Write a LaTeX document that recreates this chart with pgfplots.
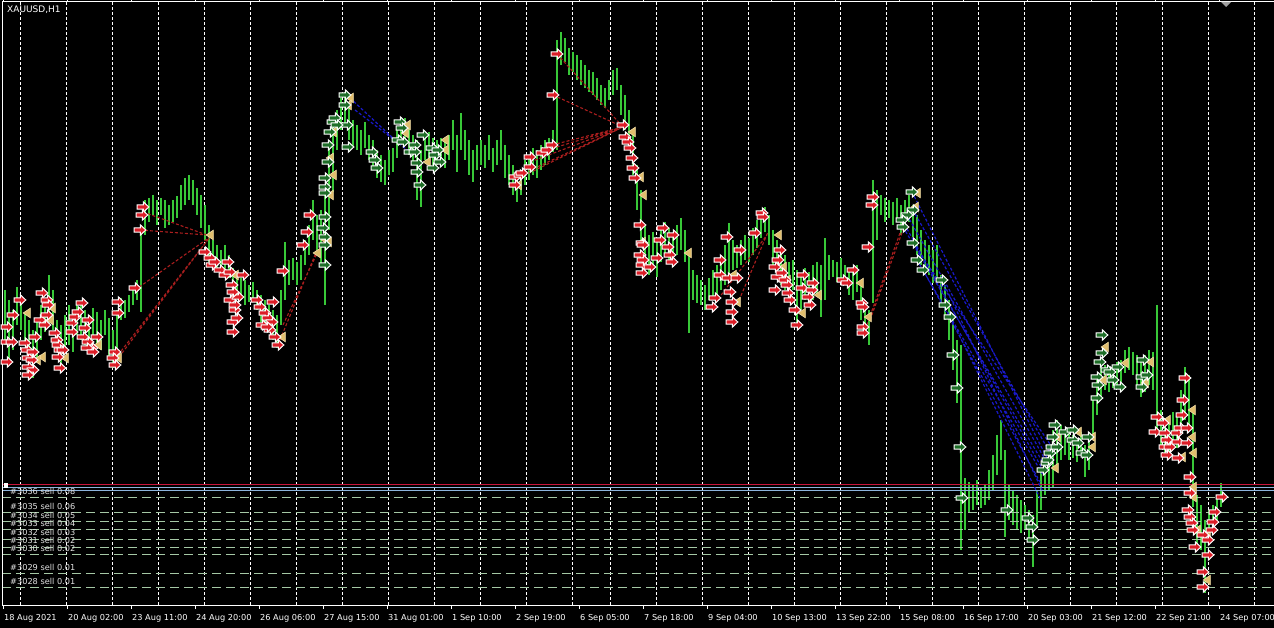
\documentclass[border=0pt]{standalone}
\usepackage{fontspec}
\setmainfont{DejaVu Sans}
\usepackage{pgfplots}
\pgfplotsset{compat=1.18}
\usepackage{pgfplotstable}

\definecolor{barcol}{RGB}{56,200,56}
\definecolor{sellred}{RGB}{220,30,40}
\definecolor{buygreen}{RGB}{30,110,40}
\definecolor{closetan}{RGB}{225,190,110}
\definecolor{closeedge}{RGB}{245,225,170}
\definecolor{ordline}{RGB}{165,200,165}
\definecolor{lvlred}{RGB}{200,20,60}
\definecolor{lvlblue}{RGB}{140,180,220}
\definecolor{dashred}{RGB}{170,30,30}
\definecolor{dashblue}{RGB}{25,25,200}
\definecolor{labgray}{RGB}{225,225,225}

% trade arrow (pointing right) and close marker (pointing left)
\pgfdeclareplotmark{rarrow}{%
  \pgfpathmoveto{\pgfqpoint{-\pgfplotmarksize}{0.38\pgfplotmarksize}}%
  \pgfpathlineto{\pgfqpoint{0.05\pgfplotmarksize}{0.38\pgfplotmarksize}}%
  \pgfpathlineto{\pgfqpoint{0.05\pgfplotmarksize}{0.9\pgfplotmarksize}}%
  \pgfpathlineto{\pgfqpoint{\pgfplotmarksize}{0pt}}%
  \pgfpathlineto{\pgfqpoint{0.05\pgfplotmarksize}{-0.9\pgfplotmarksize}}%
  \pgfpathlineto{\pgfqpoint{0.05\pgfplotmarksize}{-0.38\pgfplotmarksize}}%
  \pgfpathlineto{\pgfqpoint{-\pgfplotmarksize}{-0.38\pgfplotmarksize}}%
  \pgfpathclose
  \pgfusepathqfillstroke}
\pgfdeclareplotmark{ltri}{%
  \pgfpathmoveto{\pgfqpoint{-0.8\pgfplotmarksize}{0pt}}%
  \pgfpathlineto{\pgfqpoint{0.7\pgfplotmarksize}{\pgfplotmarksize}}%
  \pgfpathlineto{\pgfqpoint{0.7\pgfplotmarksize}{-\pgfplotmarksize}}%
  \pgfpathclose
  \pgfusepathqfillstroke}

% hourly bars: x position, top, bottom (screen rows, y axis reversed)
\pgfplotstableread{
x t b
5 290 345
9 300 362
13 310 350
17 287 325
21 295 330
25 312 345
29 320 372
33 330 378
37 318 360
41 305 340
45 300 332
49 275 320
53 290 330
57 320 352
61 325 365
65 315 350
69 305 345
73 310 352
77 302 335
81 305 340
85 310 345
89 315 352
93 308 340
97 312 345
101 320 350
105 310 335
109 318 360
113 330 368
117 310 365
121 298 320
125 300 318
129 295 312
133 288 305
137 280 300
141 228 312
145 200 235
149 198 222
153 195 215
157 200 225
161 198 215
165 200 228
169 205 225
173 200 222
177 196 218
181 185 210
185 178 205
189 175 200
193 180 205
197 188 215
201 195 228
205 205 240
209 225 262
213 240 262
217 245 268
221 250 275
225 245 270
229 255 278
233 268 298
237 272 296
241 278 300
245 280 305
249 285 302
253 282 300
257 290 310
261 295 322
265 300 325
269 305 330
273 310 340
277 315 348
281 290 325
285 242 300
289 260 285
293 258 280
297 262 285
301 255 280
305 240 265
309 225 255
313 200 240
317 215 250
321 210 265
325 195 305
329 150 230
333 118 192
337 110 150
341 98 130
345 92 125
349 105 140
353 120 148
357 125 150
361 130 155
365 122 148
369 135 160
373 140 170
377 150 178
381 155 182
385 160 185
389 150 175
393 148 172
397 130 158
401 120 145
405 118 140
409 128 155
413 135 165
417 140 200
421 150 207
425 135 160
429 132 158
433 138 165
437 140 165
441 138 160
445 142 168
449 135 160
453 120 150
457 135 172
461 113 150
465 130 160
469 140 175
473 150 182
477 145 170
481 140 165
485 145 168
489 135 160
493 148 172
497 140 165
501 130 160
505 145 178
509 155 185
513 165 195
517 175 202
521 170 195
525 160 185
529 155 180
533 148 175
537 150 178
541 145 170
545 140 165
549 138 160
553 130 152
557 40 150
561 32 65
565 38 62
569 48 75
573 52 72
577 55 80
581 60 85
585 65 88
589 70 92
593 72 95
597 78 100
601 85 105
605 88 108
609 80 100
613 70 95
617 68 90
621 85 115
625 95 130
629 110 140
633 130 175
637 165 210
641 190 240
645 225 270
649 235 275
653 232 268
657 240 277
661 230 262
665 222 255
669 228 260
673 235 267
677 225 255
681 218 250
685 230 262
689 250 333
693 270 300
697 275 303
701 280 305
705 285 310
709 278 300
713 270 300
717 265 295
721 260 290
725 245 285
729 223 275
733 240 270
737 245 268
741 240 265
745 235 260
749 238 262
753 228 255
757 220 248
761 210 238
765 207 232
769 215 245
773 230 265
777 240 270
781 250 285
785 255 290
789 262 297
793 260 290
797 270 327
801 275 310
805 268 300
809 272 305
813 265 300
817 262 295
821 265 317
825 238 300
829 255 280
833 260 277
837 262 282
841 258 278
845 265 285
849 268 295
853 272 300
857 265 292
861 285 320
865 300 335
869 310 345
873 180 303
877 190 240
881 195 215
885 198 222
889 200 218
893 202 225
897 198 220
901 205 235
905 200 228
909 195 222
913 205 237
917 215 255
921 230 265
925 240 272
929 245 275
933 250 283
937 245 280
941 275 305
945 285 320
949 300 340
953 320 370
957 340 403
961 345 550
965 478 530
969 482 512
973 485 510
977 480 505
981 488 508
985 485 505
989 470 500
993 455 490
997 435 475
1001 420 460
1005 450 537
1009 485 520
1013 490 525
1017 495 530
1021 500 533
1025 505 530
1029 510 540
1033 515 567
1037 490 527
1041 470 510
1045 460 495
1049 457 490
1053 430 487
1057 420 470
1061 425 460
1065 430 455
1069 433 460
1073 435 458
1077 440 462
1081 432 455
1085 445 477
1089 440 470
1093 400 440
1097 380 415
1101 367 400
1105 365 390
1109 370 392
1113 368 388
1117 362 385
1121 360 382
1125 350 373
1129 347 370
1133 352 375
1137 355 385
1141 360 397
1145 355 392
1149 350 385
1153 352 390
1157 305 433
1161 410 445
1165 418 455
1169 420 457
1173 412 450
1177 415 448
1181 390 433
1185 367 420
1189 375 430
1193 410 507
1197 495 545
1201 505 550
1205 520 593
1209 510 535
1213 505 530
1217 495 520
1221 483 507
}\bars

\begin{document}
\begin{tikzpicture}
\fill[black] (-2pt,-23pt) rectangle (1272pt,605pt);
\begin{axis}[
  at={(0,0)}, anchor=south west,
  scale only axis, width=1272pt, height=603pt,
  xmin=2, xmax=1274, ymin=2, ymax=605, y dir=reverse,
  axis background/.style={fill=black},
  axis line style={draw=none},
  clip=false,
  ytick=\empty,
  xtick={3,67,...,1219},
  xticklabels={18 Aug 2021, 20 Aug 02:00, 23 Aug 11:00, 24 Aug 20:00, 26 Aug 06:00,
    27 Aug 15:00, 31 Aug 01:00, 1 Sep 10:00, 2 Sep 19:00, 6 Sep 05:00,
    7 Sep 18:00, 9 Sep 04:00, 10 Sep 13:00, 13 Sep 22:00, 15 Sep 08:00,
    16 Sep 17:00, 20 Sep 03:00, 21 Sep 12:00, 22 Sep 21:00, 24 Sep 07:00},
  tick align=outside, major tick length=4pt,
  xtick style={white, line width=0.8pt},
  xticklabel style={text=white, font=\fontsize{8.2}{9}\selectfont,
    anchor=north west, inner sep=0pt, xshift=1pt, yshift=-5pt},
  extra x ticks={20.7,66.7,112.7,158.7,204.7,250.7,296.7,342.7,388.7,434.7,480.7,526.7,572.7,
    610.7,656.7,702.7,748.7,794.7,840.7,886.7,932.7,978.7,1024.7,1070.7,1116.7,1162.7,1208.7,1254.7},
  extra x tick labels={},
  extra x tick style={grid=major, major tick length=0pt,
    major grid style={white, dash pattern=on 3pt off 2pt, line width=0.9pt}},
  unbounded coords=jump,
]
% price bars
\addplot[barcol, line width=1.3pt, quiver={u=0, v=\thisrow{b}-\thisrow{t}}]
  table[x=x, y=t] {\bars};

% order levels
\addplot[lvlred, line width=1pt] coordinates {(2,484.5) (1274,484.5)};
\addplot[lvlblue, line width=0.8pt] coordinates {(2,487.5) (1274,487.5) (2,nan) (2,490) (1274,490)};
\pgfplotsinvokeforeach{497,512,521,529,539,547,554,573,587}{
  \addplot[ordline, line width=0.9pt, dash pattern=on 9pt off 5pt] coordinates {(2,#1) (1274,#1)};
}

% connectors of closed sell trades
\addplot[dashred, line width=1.1pt, dash pattern=on 3pt off 2pt] coordinates {
  (113,365) (210,237) (0,nan) (118,355) (210,237) (0,nan) (135,290) (210,237) (0,nan)
  (140,230) (207,235) (0,nan) (143,212) (207,235) (0,nan)
  (280,340) (317,250) (0,nan) (283,325) (322,243) (0,nan)
  (515,180) (623,127) (0,nan) (520,175) (623,127) (0,nan) (530,162) (623,127) (0,nan)
  (547,150) (623,127) (0,nan) (552,145) (623,127) (0,nan) (553,95) (623,127) (0,nan)
  (557,54) (623,127) (0,nan)
  (712,307) (767,235) (0,nan) (737,305) (768,232) (0,nan)
  (865,330) (900,233) (0,nan) (870,320) (903,230)};
% connectors of closed buy trades
\addplot[dashblue, line width=1.2pt, dash pattern=on 3pt off 2pt] coordinates {
  (350,98) (395,140) (0,nan) (355,110) (410,152) (0,nan)
  (912,192) (1048,460) (0,nan) (913,210) (1050,453) (0,nan) (907,215) (1047,463) (0,nan)
  (902,220) (1043,470) (0,nan) (903,227) (1045,466) (0,nan) (913,243) (1052,447) (0,nan)
  (917,260) (1043,475) (0,nan) (923,270) (1040,482) (0,nan) (942,280) (1042,490) (0,nan)
  (950,317) (1040,498)};

% close markers
\addplot[only marks, mark=ltri, mark size=4.8pt,
  mark options={fill=closetan, draw=closeedge, line width=0.6pt}] coordinates {
  (27,313) (52,308) (50,320) (42,357) (65,358) (37,360) (98,345) (118,358) (210,235)
  (235,275) (282,337) (317,253) (325,240) (350,98) (348,105) (333,132) (330,158)
  (333,175) (330,195) (328,242) (407,125) (405,133) (427,162) (445,140) (445,150)
  (518,185) (632,132) (640,177) (643,195) (642,242) (688,253) (733,275) (737,302)
  (778,235) (783,267) (787,280) (802,313) (818,295) (860,283) (868,317) (917,193)
  (915,207) (1057,437) (1078,432) (1092,447) (1092,437) (1105,347) (1103,380)
  (1125,363) (1150,362) (1145,383) (1167,420) (1182,457) (1192,410) (1192,437)
  (1193,453) (1193,487) (1193,497) (1197,530) (1207,533) (1207,580) (1055,468)};

% sell entries
\addplot[only marks, mark=rarrow, mark size=5.8pt,
  mark options={fill=sellred, draw=white, line width=1pt}] coordinates {
  (7,327) (7,342) (13,315) (20,300) (7,362) (12,342) (25,343) (27,350) (28,358)
  (32,360) (33,352) (28,367) (33,370) (28,375) (35,337) (40,320) (42,293) (47,300)
  (48,305) (47,315) (45,325) (55,333) (57,340) (58,345) (60,350) (58,357) (63,350)
  (60,368) (72,323) (72,332) (75,317) (78,312) (82,303) (88,320) (85,328) (83,337)
  (88,342) (92,348) (87,348) (93,352) (97,337) (115,352) (113,358) (115,365)
  (118,302) (118,313) (135,288) (143,207) (142,215) (140,230)
  (205,252) (210,258) (212,265) (215,262) (220,270) (225,275) (230,272) (228,262)
  (232,285) (230,300) (235,310) (233,322) (238,297) (243,275) (233,292) (235,305)
  (237,318) (233,332) (257,300) (260,307) (265,313) (268,318) (272,322) (270,330)
  (275,337) (278,345) (262,325) (267,327) (273,302) (283,271) (307,232) (310,215)
  (303,245)
  (515,177) (515,185) (520,175) (522,173) (530,157) (530,167) (542,153) (547,150)
  (552,145) (553,95) (557,54)
  (623,125) (625,137) (628,142) (630,148) (632,158) (633,168) (635,178) (640,225)
  (642,243) (640,255) (642,265) (643,245) (643,260) (642,273) (650,267) (657,258)
  (660,240) (663,228) (668,247) (670,255) (673,235) (672,262)
  (712,307) (715,298) (720,260) (720,275) (727,237) (728,278) (730,292) (732,302)
  (732,312) (732,322) (737,278) (740,250) (755,233) (762,213) (763,217)
  (775,267) (777,277) (775,290) (778,260) (780,250) (782,273) (785,280) (787,285)
  (788,293) (790,300) (795,310) (797,325) (802,288) (803,275) (808,297) (810,305)
  (812,290) (813,283)
  (843,280) (847,283) (853,270) (862,303) (863,307) (863,327) (863,333) (868,247)
  (872,205) (873,197)
  (1157,417) (1155,432) (1163,423) (1165,433) (1167,440) (1165,447) (1167,455)
  (1170,447) (1177,433) (1180,428) (1178,442) (1183,400) (1182,415) (1185,378)
  (1187,428) (1187,443) (1178,458) (1190,477) (1190,493) (1188,510) (1190,517)
  (1192,523) (1193,530) (1195,547) (1203,535) (1208,540) (1208,555) (1212,530)
  (1213,522) (1215,512) (1203,572) (1203,587) (1222,497)};

% buy entries
\addplot[only marks, mark=rarrow, mark size=5.8pt,
  mark options={fill=buygreen, draw=white, line width=1pt}] coordinates {
  (325,178) (325,187) (325,193) (325,217) (323,228) (325,237) (325,245) (325,265)
  (328,145) (328,162) (330,132) (333,122) (335,118) (345,95) (345,105) (347,125)
  (348,147) (337,125)
  (372,152) (375,160) (377,168) (400,122) (402,128) (398,140) (403,142) (410,152)
  (415,145) (415,152) (417,163) (417,172) (420,185) (423,135) (432,148) (435,155)
  (438,150) (440,162) (433,168)
  (912,192) (913,210) (907,215) (902,220) (903,227) (913,243) (917,260) (923,270)
  (942,280) (945,305) (950,317) (953,355) (957,388) (960,447) (962,498)
  (1007,510) (1028,518) (1032,527) (1033,540) (1043,470) (1047,463) (1048,460)
  (1050,453) (1052,447) (1053,437) (1055,425) (1057,447) (1065,432) (1073,430)
  (1073,440) (1078,443) (1082,453) (1087,455) (1088,437) (1097,377) (1098,385)
  (1097,398) (1100,362) (1102,353) (1102,335) (1107,370) (1110,372) (1113,380)
  (1118,367) (1120,387) (1143,360) (1142,377) (1142,387) (1147,375)};

% chart frame and decorations
\draw[white, line width=1pt] (axis cs:1274,2) -- (axis cs:2,2) -- (axis cs:2,605) -- (axis cs:1274,605);
\fill[gray!75] (axis cs:1221,2) -- (axis cs:1231,2) -- (axis cs:1226,7) -- cycle;
\fill[white] (axis cs:4,483) rectangle (axis cs:8,488);
\node[anchor=west, text=white, inner sep=0pt, font=\fontsize{9}{10}\selectfont]
  at (axis cs:7,10) {XAUUSD,H1};
\begin{scope}[every node/.style={anchor=west, text=labgray, inner sep=0pt,
    font=\fontsize{8.2}{9}\selectfont}]
\node at (axis cs:10,491.7) {\#3036 sell 0.08};
\node at (axis cs:10,506.7) {\#3035 sell 0.06};
\node at (axis cs:10,515) {\#3034 sell 0.05};
\node at (axis cs:10,523.3) {\#3033 sell 0.04};
\node at (axis cs:10,532.7) {\#3032 sell 0.03};
\node at (axis cs:10,540.3) {\#3031 sell 0.02};
\node at (axis cs:10,548.7) {\#3030 sell 0.02};
\node at (axis cs:10,567.7) {\#3029 sell 0.01};
\node at (axis cs:10,581) {\#3028 sell 0.01};
\end{scope}
\end{axis}
\pgfresetboundingbox
\path[use as bounding box] (-2pt,-23pt) rectangle (1272pt,605pt);
\end{tikzpicture}
\end{document}
